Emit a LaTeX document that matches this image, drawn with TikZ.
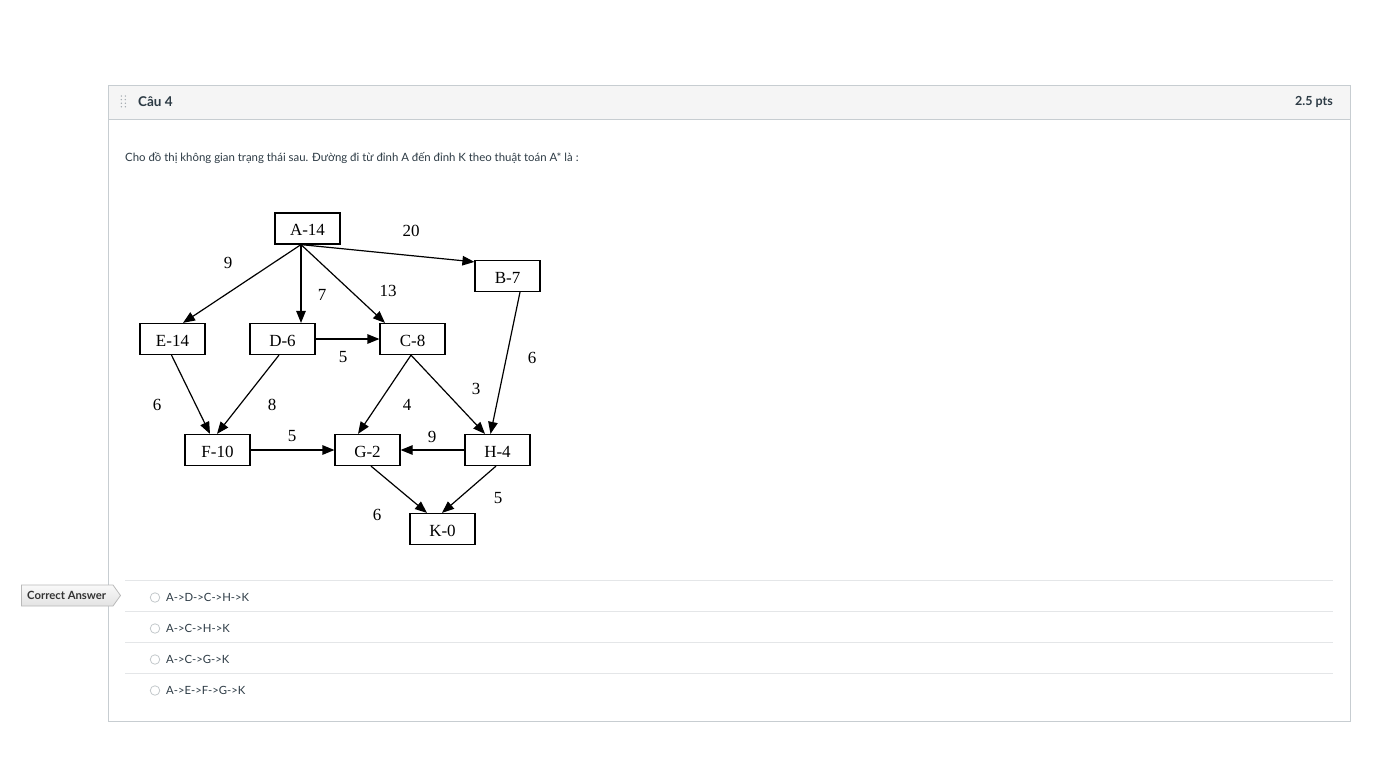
\documentclass[tikz,border=0pt]{standalone}
\usepackage{fontspec}
\setmainfont{Lato}
\newfontfamily\graphfont{Liberation Serif}
\usetikzlibrary{arrows.meta}

\definecolor{cardborder}{HTML}{C7CDD1}
\definecolor{headbg}{HTML}{F5F5F5}
\definecolor{inktext}{HTML}{2D3B45}
\definecolor{rule}{HTML}{E4E6E8}
\definecolor{dotgray}{HTML}{A0A8AE}
\definecolor{radioedge}{HTML}{C4C9CC}

\tikzset{
  state/.style={draw=black, line width=1.2pt, fill=white, minimum width=65pt,
    minimum height=31pt, inner sep=0pt, text height=14.5pt, text depth=0pt,
    font=\graphfont\fontsize{17}{17}\selectfont},
  cost/.style={inner sep=0pt, font=\graphfont\fontsize{17}{17}\selectfont},
  edge/.style={line width=1.2pt, -{Triangle[length=12pt,width=9.5pt]}},
  uitext/.style={inner sep=0pt, anchor=west, text=inktext},
  option/.style={uitext, font=\fontsize{11.3}{11.3}\selectfont},
  radio/.style={circle, draw=radioedge, line width=0.8pt, fill=white, minimum size=9.5pt, inner sep=0pt},
}

\begin{document}
\begin{tikzpicture}[x=1pt,y=-1pt]
\path[use as bounding box, fill=white] (0,0) rectangle (1399,771);

% question card
\draw[cardborder, line width=1pt, fill=white] (108.5,85.5) rectangle (1350,721);
\fill[headbg] (109,86) rectangle (1349.5,119);
\draw[cardborder, line width=1pt] (108.5,119.5) -- (1350,119.5);

% drag handle
\foreach \i in {0,1,2,3} {
  \fill[dotgray] (121.3,{96+\i*3.6}) circle (0.75);
  \fill[dotgray] (125.3,{96+\i*3.6}) circle (0.75);
}
\node[uitext, font=\bfseries\fontsize{13.5}{13.5}\selectfont] (title) at (138,101.5) {Câu 4};
\node[uitext, anchor=east, font=\bfseries\fontsize{12.5}{12.5}\selectfont] (points) at (1333,101.5) {2.5 pts};

\node[uitext, font=\fontsize{11.4}{11.4}\selectfont] (prompt) at (125,158.5)
  {Cho đồ thị không gian trạng thái sau. Đường đi từ đỉnh A đến đỉnh K theo thuật toán A* là :};

% state-space graph
\node[state] (A) at (307.5,228.5) {A-14};
\node[state] (B) at (507.5,276) {B-7};
\node[state] (E) at (172.5,339) {E-14};
\node[state] (D) at (282.5,339) {D-6};
\node[state] (C) at (412.5,339) {C-8};
\node[state] (F) at (217.5,450) {F-10};
\node[state] (G) at (367.5,450) {G-2};
\node[state] (H) at (497.5,450) {H-4};
\node[state] (K) at (442.5,529) {K-0};

\draw[edge] ([xshift=-6.5pt]A.south) -- ([xshift=10.5pt]E.north);
\draw[edge] ([xshift=-6.5pt]A.south) -- ([xshift=18.5pt]D.north);
\draw[edge] ([xshift=-6.5pt]A.south) -- ([xshift=-27.5pt]C.north);
\draw[edge] ([xshift=-6.5pt]A.south) -- ([yshift=-2pt]B.north west);
\draw[edge] ([xshift=12.5pt]B.south) -- ([xshift=-7pt]H.north);
\draw[edge] (D.east) -- (C.west);
\draw[edge] ([xshift=-1pt]E.south) -- ([xshift=-7.5pt]F.north);
\draw[edge] ([xshift=-3.5pt]D.south) -- ([xshift=-0.5pt]F.north);
\draw[edge] ([xshift=-1.5pt]C.south) -- ([xshift=-9.5pt]G.north);
\draw[edge] ([xshift=-1.5pt]C.south) -- ([xshift=-12.5pt]H.north);
\draw[edge] (F.east) -- (G.west);
\draw[edge] (H.west) -- (G.east);
\draw[edge] ([xshift=3.5pt]G.south) -- ([xshift=-15.5pt]K.north);
\draw[edge] ([xshift=-1.5pt]H.south) -- ([xshift=-0.5pt]K.north);

\node[cost] (wAB) at (411,230.5) {20};
\node[cost] (wAE) at (228,262.5) {9};
\node[cost] (wAD) at (322,294.5) {7};
\node[cost] (wAC) at (388,290.5) {13};
\node[cost] (wDC) at (343,357.5) {5};
\node[cost] (wBH) at (532,357.5) {6};
\node[cost] (wEF) at (157,404.5) {6};
\node[cost] (wDF) at (272,404.5) {8};
\node[cost] (wCG) at (407,404.5) {4};
\node[cost] (wCH) at (476,388.5) {3};
\node[cost] (wFG) at (292,436.5) {5};
\node[cost] (wHG) at (432,436.5) {9};
\node[cost] (wHK) at (498,498.5) {5};
\node[cost] (wGK) at (377,514.5) {6};

% answer options
\foreach \y in {580.5,611.5,642.5,673.5}
  \draw[rule, line width=1pt] (125,\y) -- (1333,\y);
\node[radio] (r1) at (155,597.5) {};
\node[radio] (r2) at (155,628.5) {};
\node[radio] (r3) at (155,659.5) {};
\node[radio] (r4) at (155,690.5) {};
\node[option] (o1) at (166,597.5) {A->D->C->H->K};
\node[option] (o2) at (166,628.5) {A->C->H->K};
\node[option] (o3) at (166,659.5) {A->C->G->K};
\node[option] (o4) at (166,690.5) {A->E->F->G->K};

% correct-answer tag
\draw[draw=gray!55, line width=0.8pt, top color=gray!5, bottom color=gray!22]
  (21.5,585) -- (113,585) -- (120.5,595.5) -- (113,606) -- (21.5,606) -- cycle;
\node[uitext, text=black!80, font=\bfseries\fontsize{11.3}{11.3}\selectfont] (tag) at (27,595.5) {Correct Answer};
\end{tikzpicture}
\end{document}
